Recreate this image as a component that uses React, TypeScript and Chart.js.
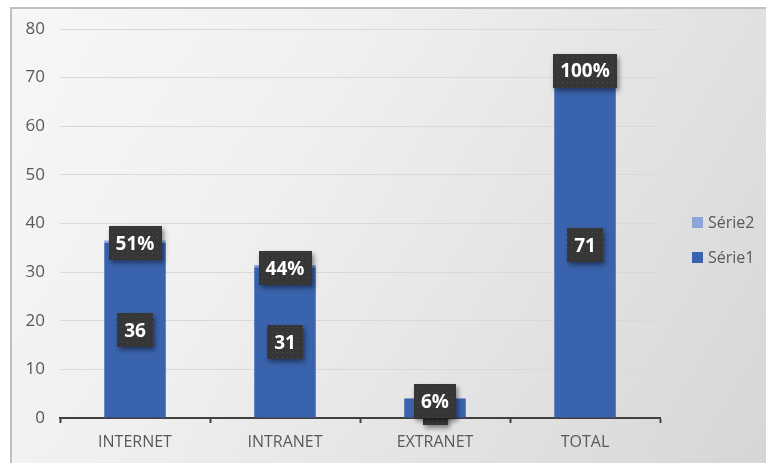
import React, { useEffect, useRef } from "react";
import { Chart, registerables } from "chart.js";

Chart.register(...registerables);

const categories = ["INTERNET", "INTRANET", "EXTRANET", "TOTAL"];
const serie1 = [36, 31, 4, 71];
const serie2 = [0.51, 0.44, 0.06, 1.0];
const serie2Labels = ["51%", "44%", "6%", "100%"];
const yTicks = { min: 0, max: 80, step: 10 };

const FONT = "'Open Sans', 'DejaVu Sans', sans-serif";
const C1 = "#3a63ad";
const C2 = "#8ea5d8";
const TEXT = "#595959";

function makePattern(ctx: CanvasRenderingContext2D) {
  const c = document.createElement("canvas");
  c.width = 5;
  c.height = 5;
  const p = c.getContext("2d")!;
  p.fillStyle = "#363636";
  p.fillRect(0, 0, 5, 5);
  p.fillStyle = "#4c4c4c";
  p.fillRect(2, 2, 1, 1);
  return ctx.createPattern(c, "repeat") || "#363636";
}

const framePlugin = {
  id: "frame",
  beforeDraw(chart: any) {
    const ctx = chart.ctx as CanvasRenderingContext2D;
    const W = chart.width;
    const H = chart.height;
    ctx.save();
    const g = ctx.createLinearGradient(10, 7, W, H);
    g.addColorStop(0, "#f7f7f7");
    g.addColorStop(0.35, "#f0f0f0");
    g.addColorStop(1, "#d6d6d6");
    ctx.fillStyle = g;
    ctx.fillRect(10, 7, W - 10, H - 7);
    ctx.strokeStyle = "#bfbfbf";
    ctx.lineWidth = 2;
    ctx.beginPath();
    ctx.moveTo(11, H);
    ctx.lineTo(11, 8);
    ctx.lineTo(W, 8);
    ctx.stroke();
    ctx.restore();
  },
};

function drawLabel(ctx: CanvasRenderingContext2D, pattern: any, text: string, cx: number, cy: number) {
  ctx.font = `bold 19px ${FONT}`;
  const tw = ctx.measureText(text).width;
  const w = tw + 14;
  const h = 34;
  ctx.save();
  ctx.shadowColor = "rgba(0,0,0,0.45)";
  ctx.shadowBlur = 5;
  ctx.shadowOffsetX = 2;
  ctx.shadowOffsetY = 3;
  ctx.fillStyle = pattern;
  ctx.fillRect(Math.round(cx - w / 2), Math.round(cy - h / 2), Math.round(w), h);
  ctx.restore();
  ctx.fillStyle = "#ffffff";
  ctx.textAlign = "center";
  ctx.textBaseline = "middle";
  ctx.fillText(text, cx, cy + 1);
}

const labelsPlugin = {
  id: "boxLabels",
  afterDatasetsDraw(chart: any) {
    const ctx = chart.ctx as CanvasRenderingContext2D;
    const pattern = makePattern(ctx);
    ctx.save();
    const m0 = chart.getDatasetMeta(0);
    m0.data.forEach((el: any, i: number) => {
      drawLabel(ctx, pattern, String(serie1[i]), el.x, (el.y + el.base) / 2);
    });
    const m1 = chart.getDatasetMeta(1);
    m1.data.forEach((el: any, i: number) => {
      drawLabel(ctx, pattern, serie2Labels[i], el.x, el.y + 3);
    });
    ctx.restore();
  },
};

const legendPlugin = {
  id: "customLegend",
  afterDraw(chart: any) {
    const ctx = chart.ctx as CanvasRenderingContext2D;
    const ds = chart.data.datasets;
    const items = [ds[1], ds[0]];
    ctx.save();
    ctx.font = `16px ${FONT}`;
    ctx.textBaseline = "middle";
    ctx.textAlign = "left";
    items.forEach((d: any, i: number) => {
      const y = 222 + i * 35;
      ctx.fillStyle = d.backgroundColor;
      ctx.fillRect(692, y - 5, 11, 11);
      ctx.fillStyle = TEXT;
      ctx.fillText(d.label, 708, y + 1);
    });
    ctx.restore();
  },
};

export default function App() {
  const ref = useRef<HTMLCanvasElement>(null);
  useEffect(() => {
    document.body.style.margin = "0";
    const chart = new Chart(ref.current!, {
      type: "bar",
      data: {
        labels: categories,
        datasets: [
          { label: "Série1", data: serie1, backgroundColor: C1, categoryPercentage: 1, barPercentage: 0.41 },
          { label: "Série2", data: serie2, backgroundColor: C2, categoryPercentage: 1, barPercentage: 0.41 },
        ],
      },
      options: {
        animation: false,
        responsive: false,
        maintainAspectRatio: false,
        layout: { padding: { left: 10, top: 29, right: 106, bottom: 0 } },
        plugins: { legend: { display: false }, tooltip: { enabled: false } },
        scales: {
          x: {
            stacked: true,
            offset: true,
            grid: {
              offset: true,
              drawOnChartArea: false,
              drawTicks: true,
              tickLength: 5,
              tickWidth: 2,
              color: "#404040",
            },
            border: { display: true, color: "#404040", width: 2 },
            ticks: { color: TEXT, font: { family: FONT, size: 16 }, padding: 10 },
            afterFit(scale: any) {
              scale.height = 45;
            },
          },
          y: {
            stacked: true,
            min: yTicks.min,
            max: yTicks.max,
            grid: { color: "#d9d9d9", drawTicks: false, lineWidth: 1 },
            border: { display: false },
            ticks: { stepSize: yTicks.step, color: TEXT, font: { family: FONT, size: 17 }, padding: 15 },
            afterFit(scale: any) {
              scale.width = 50;
            },
          },
        },
      },
      plugins: [framePlugin, labelsPlugin, legendPlugin],
    });
    return () => chart.destroy();
  }, []);
  return (
    <div style={{ position: "absolute", left: 0, top: 0, width: 766, height: 463 }}>
      <canvas ref={ref} width={766} height={463} style={{ width: 766, height: 463 }} />
    </div>
  );
}
